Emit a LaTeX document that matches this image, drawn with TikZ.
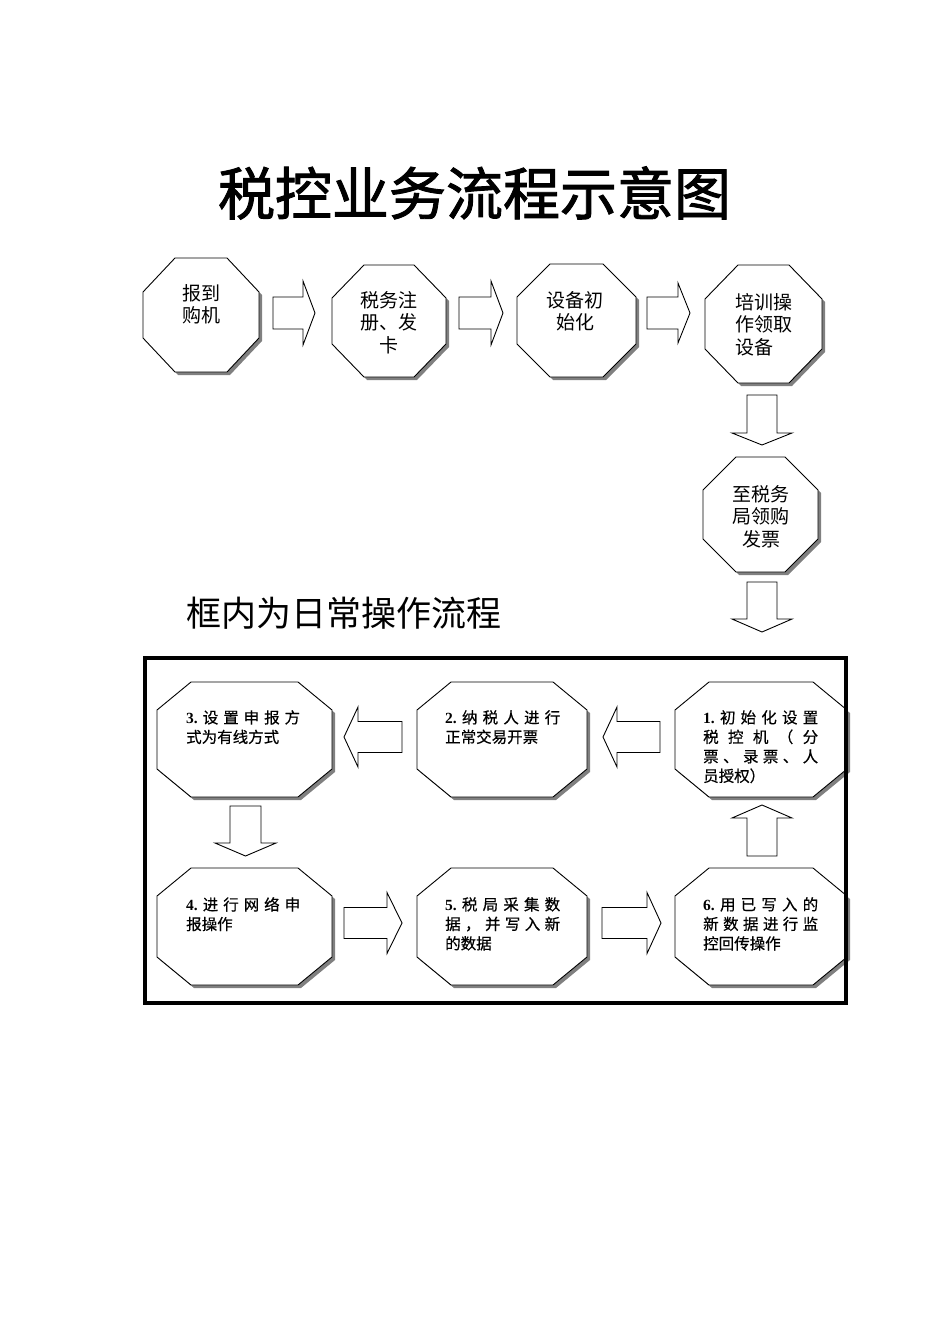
\documentclass[tikz,border=0pt]{standalone}
\usepackage{fontspec}
\setmainfont{Noto Sans CJK SC}
\newfontfamily\titlef{Noto Sans CJK SC}[FakeBold=1.6]
\newfontfamily\cjkm{Noto Sans CJK SC}[FakeBold=0.5]
\newfontfamily\numf{Liberation Serif}
\newcommand\nbf[1]{{\numf\bfseries #1}}
\newcommand\octo[7]{%
 \node[octbox, minimum width=#4pt, minimum height=#5pt] (#1) at (#2,#3) {};
 \fill[octshadow] ([shift={(#6+3,3)}]#1.north west) -- ([shift={(-#6+3,3)}]#1.north east) -- ([shift={(3,#7+3)}]#1.north east) -- ([shift={(3,-#7+3)}]#1.south east) -- ([shift={(-#6+3,3)}]#1.south east) -- ([shift={(#6+3,3)}]#1.south west) -- ([shift={(3,-#7+3)}]#1.south west) -- ([shift={(3,#7+3)}]#1.north west) -- cycle;
 \draw[octline] ([shift={(#6,0)}]#1.north west) -- ([shift={(-#6,0)}]#1.north east) -- ([shift={(0,#7)}]#1.north east) -- ([shift={(0,-#7)}]#1.south east) -- ([shift={(-#6,0)}]#1.south east) -- ([shift={(#6,0)}]#1.south west) -- ([shift={(0,-#7)}]#1.south west) -- ([shift={(0,#7)}]#1.north west) -- cycle;
}
\newcommand\harr[6]{%
 \draw[barrow] (#1,#4-#5) -- (#2,#4-#5) -- (#2,#4-#6) -- (#3,#4) -- (#2,#4+#6) -- (#2,#4+#5) -- (#1,#4+#5) -- cycle;}
\newcommand\varr[6]{%
 \draw[barrow] (#4-#5,#1) -- (#4-#5,#2) -- (#4-#6,#2) -- (#4,#3) -- (#4+#6,#2) -- (#4+#5,#2) -- (#4+#5,#1) -- cycle;}
\begin{document}
\begin{tikzpicture}[x=1pt,y=-1pt,
  octbox/.style={rectangle, inner sep=0pt, outer sep=0pt},
  octshadow/.style={fill=black!50},
  octline/.style={draw=black, line width=0.9pt, fill=white, line join=miter},
  barrow/.style={draw=black, line width=0.9pt, fill=white, line join=miter},
  ttop/.style={font=\fontsize{19}{22.5}\selectfont, inner sep=0pt, align=center},
  tbot/.style={font=\cjkm\fontsize{15.5}{19.5}\selectfont, inner sep=0pt, align=left, anchor=north west},
  framebox/.style={draw=black, line width=3.5pt, inner sep=0pt}]
\fill[white] (0,0) rectangle (950,1344);
\useasboundingbox (0,0) rectangle (950,1344);

\node[font=\titlef\fontsize{57}{60}\selectfont] (title) at (474.5,193) {税控业务流程示意图};

% top row
\octo{A}{201}{315}{116}{114}{32}{34}
\octo{B}{389}{321}{114}{112}{32}{33}
\octo{C}{576.5}{320.5}{119}{113}{33}{33}
\octo{D}{763.5}{324}{117}{118}{33}{34}
\octo{E}{760.5}{514.5}{115}{115}{33}{33}

\node[ttop, anchor=north] (tA) at (201,284) {报到\\购机};
\node[ttop, anchor=north] (tB) at (389,291) {税务注\\册、发\\卡};
\node[ttop, anchor=north] (tC) at (575,291) {设备初\\始化};
\node[ttop, anchor=north west, align=left] (tD) at (735,293) {培训操\\作领取\\设备};
\node[ttop, anchor=north] (tE) at (761,485) {至税务\\局领购\\发票};

\harr{273}{303}{315}{313}{16}{32}
\harr{459}{491}{503}{313}{16}{32}
\harr{647}{678}{690}{313}{16}{30}
\varr{395}{433}{445}{762}{15}{30}
\varr{582}{619}{632}{762}{15}{30}

\node[font=\fontsize{35}{40}\selectfont, anchor=west, inner sep=0pt] (sub) at (186,613) {框内为日常操作流程};

% bottom box
\octo{N3}{244.5}{739.5}{175}{115}{34}{28}
\octo{N2}{502}{739.5}{170}{115}{34}{28}
\octo{N1}{761}{739.5}{172}{115}{34}{28}
\octo{N4}{244.5}{926.5}{175}{117}{34}{28}
\octo{N5}{502}{926.5}{170}{117}{34}{28}
\octo{N6}{761}{926.5}{172}{117}{34}{28}

\node[tbot] (t3) at (186,710) {\makebox[114pt][s]{\nbf{3.}\hfill 设\hfill 置\hfill 申\hfill 报\hfill 方}\\式为有线方式};
\node[tbot] (t2) at (445,710) {\makebox[115pt][s]{\nbf{2.}\hfill 纳\hfill 税\hfill 人\hfill 进\hfill 行}\\正常交易开票};
\node[tbot] (t1) at (703,710) {\makebox[115pt][s]{\nbf{1.}\hfill 初\hfill 始\hfill 化\hfill 设\hfill 置}\\\makebox[115pt][s]{税\hfill 控\hfill 机\hfill （\hfill 分}\\\makebox[115pt][s]{票\hfill 、\hfill 录\hfill 票\hfill 、\hfill 人}\\员授权）};
\node[tbot] (t4) at (186,897) {\makebox[114pt][s]{\nbf{4.}\hfill 进\hfill 行\hfill 网\hfill 络\hfill 申}\\报操作};
\node[tbot] (t5) at (445,897) {\makebox[115pt][s]{\nbf{5.}\hfill 税\hfill 局\hfill 采\hfill 集\hfill 数}\\\makebox[115pt][s]{据\hfill ，\hfill 并\hfill 写\hfill 入\hfill 新}\\的数据};
\node[tbot] (t6) at (703,897) {\makebox[115pt][s]{\nbf{6.}\hfill 用\hfill 已\hfill 写\hfill 入\hfill 的}\\\makebox[115pt][s]{新\hfill 数\hfill 据\hfill 进\hfill 行\hfill 监}\\控回传操作};

\harr{402}{358}{344}{737}{15.5}{30}
\harr{660}{617}{603}{737}{15.5}{30}
\varr{806}{843}{856}{245.5}{15.5}{30.5}
\harr{344}{387}{402}{923}{15.5}{30.5}
\harr{602}{647}{661}{923}{15.5}{30.5}
\varr{856}{818}{805}{762}{15}{30}

\node[framebox, minimum width=701pt, minimum height=345pt] (frame) at (495.5,830.5) {};
\end{tikzpicture}
\end{document}
